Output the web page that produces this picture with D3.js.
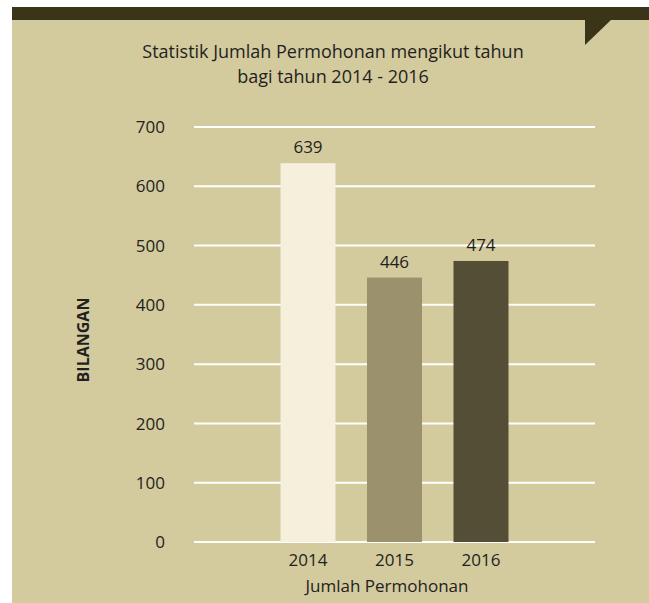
<!DOCTYPE html>
<head>
  <meta charset="utf-8">
  <style>
  body{
    margin:0;
    background-color:#fff;
  }
  svg text{
    font-family:"Open Sans", sans-serif;
    fill:#231f20;
  }
  </style>
</head>
<body>
  <svg width="649" height="603"></svg>
  <script src="https://cdnjs.cloudflare.com/ajax/libs/d3/7.8.5/d3.min.js"></script>
  <script>

  var years = ["2014", "2015", "2016"],
      counts = [639, 446, 474],
      barColors = ["#f5efdc", "#9b916d", "#554e37"],
      yTicks = [0, 100, 200, 300, 400, 500, 600, 700],
      titleLines = ["Statistik Jumlah Permohonan mengikut tahun", "bagi tahun 2014 - 2016"];

  var svg = d3.select("svg");

  // panel + dark band with the little notch
  svg.append("rect").attr("x", 12).attr("y", 7).attr("width", 637).attr("height", 596).attr("fill", "#d3ca9e");
  svg.append("rect").attr("x", 12).attr("y", 7).attr("width", 637).attr("height", 13).attr("fill", "#3a3519");
  svg.append("path").attr("d", "M585,19L612,19L585,45Z").attr("fill", "#3a3519");

  var x = d3.scaleBand()
      .domain(years)
      .range([194, 595])
      .paddingInner(0.364)
      .paddingOuter(1);

  var y = d3.scaleLinear()
      .domain([0, 700])
      .range([542, 127]);

  var g = svg.append("g");

  g.selectAll(".grid")
    .data(yTicks)
    .enter().append("line")
      .attr("class", "grid")
      .attr("x1", 194).attr("x2", 595)
      .attr("y1", function(d) { return y(d); })
      .attr("y2", function(d) { return y(d); })
      .attr("stroke", "#fff")
      .attr("stroke-width", 2);

  g.selectAll(".ytick")
    .data(yTicks)
    .enter().append("text")
      .attr("class", "ytick")
      .attr("x", 165)
      .attr("y", function(d) { return y(d); })
      .attr("dy", "0.36em")
      .attr("text-anchor", "end")
      .style("font-size", "17px")
      .text(function(d) { return d; });

  g.selectAll(".bar")
    .data(counts)
    .enter().append("rect")
      .attr("class", "bar")
      .attr("x", function(d, i) { return x(years[i]); })
      .attr("y", function(d) { return y(d); })
      .attr("width", x.bandwidth())
      .attr("height", function(d) { return y(0) - y(d); })
      .attr("fill", function(d, i) { return barColors[i]; });

  g.selectAll(".val")
    .data(counts)
    .enter().append("text")
      .attr("class", "val")
      .attr("x", function(d, i) { return x(years[i]) + x.bandwidth() / 2; })
      .attr("y", function(d) { return y(d) - 10; })
      .attr("text-anchor", "middle")
      .style("font-size", "17px")
      .text(function(d) { return d; });

  g.selectAll(".xtick")
    .data(years)
    .enter().append("text")
      .attr("class", "xtick")
      .attr("x", function(d) { return x(d) + x.bandwidth() / 2; })
      .attr("y", 566)
      .attr("text-anchor", "middle")
      .style("font-size", "17px")
      .text(function(d) { return d; });

  svg.append("text")
    .attr("x", 387).attr("y", 592)
    .attr("text-anchor", "middle")
    .style("font-size", "17px")
    .text("Jumlah Permohonan");

  svg.append("text")
    .attr("transform", "translate(89,340) rotate(-90)")
    .attr("text-anchor", "middle")
    .style("font-size", "16px")
    .style("font-weight", "bold")
    .text("BILANGAN");

  svg.selectAll(".title")
    .data(titleLines)
    .enter().append("text")
      .attr("class", "title")
      .attr("x", 333)
      .attr("y", function(d, i) { return 58 + i * 25; })
      .attr("text-anchor", "middle")
      .style("font-size", "18px")
      .text(function(d) { return d; });

  </script>
</body>
